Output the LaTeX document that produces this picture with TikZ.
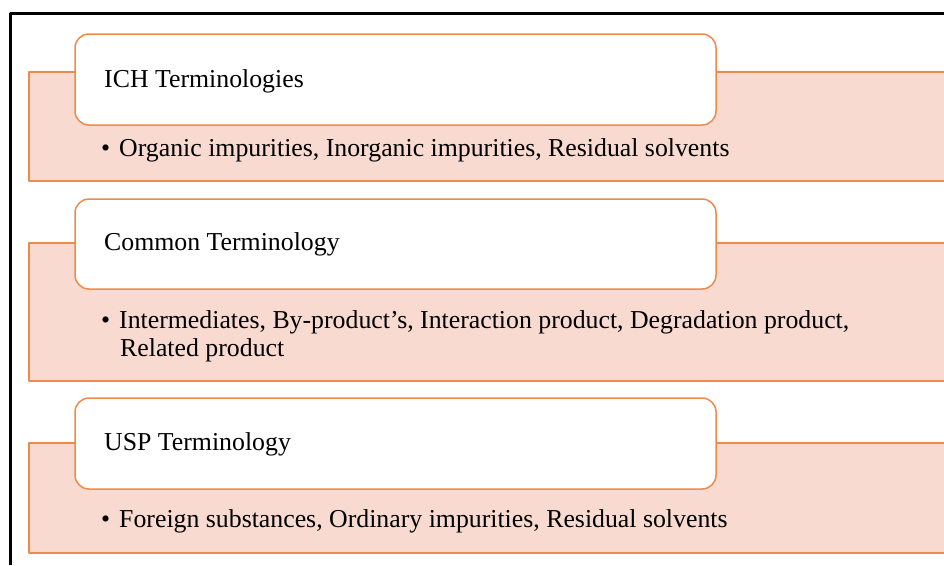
\documentclass[tikz,border=0pt]{standalone}
\usepackage{fontspec}
\setmainfont{Liberation Serif}
\usepackage{xcolor}
\definecolor{peach}{RGB}{248,218,208}
\definecolor{orange}{RGB}{239,138,74}
\tikzset{
    band/.style = {draw=orange, line width=1.5pt, fill=peach},
    head/.style = {draw=orange, line width=1.5pt, fill=white, rounded corners=14pt},
    title/.style = {anchor=base west, inner sep=0pt, font=\fontsize{25.8}{30}\selectfont},
    item/.style = {anchor=base west, inner sep=0pt, font=\fontsize{25.8}{30}\selectfont, align=left}
}

\begin{document}
\begin{tikzpicture}[line cap=round,line join=round,x=1pt,y=-1pt]
    \useasboundingbox (0,0) rectangle (944,565);
    \clip (0,0) rectangle (944,565);

    % frame
    \draw [line width=3pt, line cap=butt] (10,565) -- (10,13) -- (950,13);

    % ICH
    \draw [band] (29,72) rectangle (960,181);
    \draw [head] (75,34) rectangle (716,125);
    \node [title] (ich) at (104,87) {ICH Terminologies};
    \node [item] (ichlist) at (101,156) {\textbullet\hspace{9pt}Organic impurities, Inorganic impurities, Residual solvents};

    % common
    \draw [band] (29,243) rectangle (960,381);
    \draw [head] (75,199) rectangle (716,289);
    \node [title] (common) at (104,250) {Common Terminology};
    \node [item] (commonlist) at (101,328) {\textbullet\hspace{9pt}Intermediates, By-product's, Interaction product, Degradation product,};
    \node [item] (commonmore) at (120,356) {Related product};

    % USP
    \draw [band] (29,443) rectangle (960,553);
    \draw [head] (75,398) rectangle (716,489);
    \node [title] (usp) at (104,450) {USP Terminology};
    \node [item] (usplist) at (101,527) {\textbullet\hspace{9pt}Foreign substances, Ordinary impurities, Residual solvents};
\end{tikzpicture}
\end{document}
